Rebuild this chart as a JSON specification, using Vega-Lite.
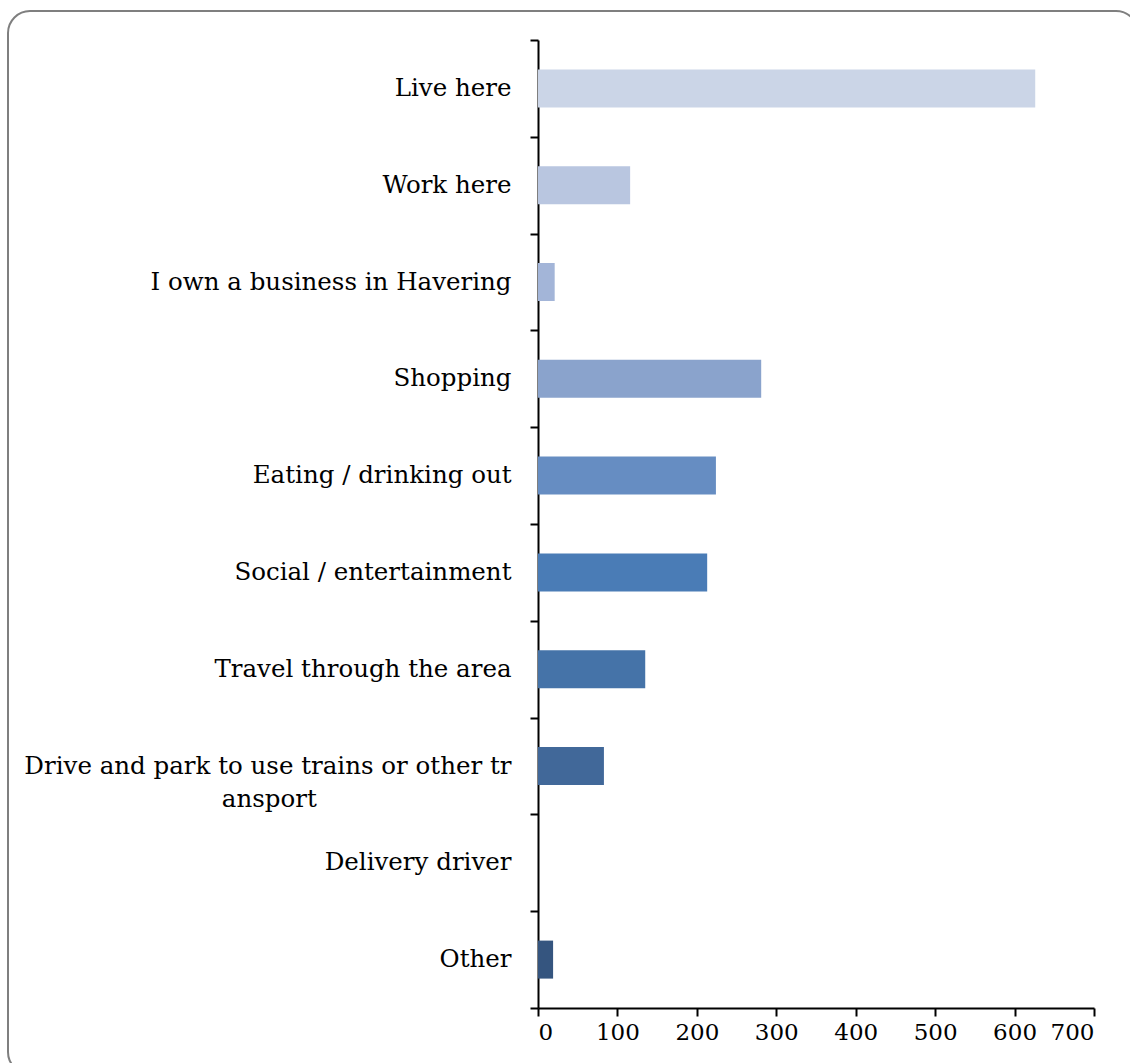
{
  "$schema": "https://vega.github.io/schema/vega-lite/v6.json",
  "width": 1130,
  "height": 1063,
  "autosize": {"type": "none"},
  "padding": {"left": 8, "top": 11, "right": 0, "bottom": 0},
  "background": "white",
  "config": {
    "view": {"stroke": "#7f7f7f", "strokeWidth": 2, "cornerRadius": 22},
    "font": "DejaVu Serif"
  },
  "data": {
    "values": [
      {"label": "Live here", "count": 626},
      {"label": "Work here", "count": 116},
      {"label": "I own a business in Havering", "count": 21},
      {"label": "Shopping", "count": 281},
      {"label": "Eating / drinking out", "count": 224},
      {"label": "Social / entertainment", "count": 213},
      {"label": "Travel through the area", "count": 135},
      {"label": "Drive and park to use trains or other transport", "count": 83},
      {"label": "Delivery driver", "count": 0},
      {"label": "Other", "count": 19}
    ]
  },
  "mark": {"type": "bar", "size": 38},
  "encoding": {
    "y": {
      "field": "label",
      "type": "nominal",
      "sort": null,
      "scale": {"range": [29, 997], "paddingInner": 0, "paddingOuter": 0},
      "axis": {
        "title": null,
        "offset": -530,
        "domainColor": "black",
        "domainWidth": 2,
        "tickColor": "black",
        "tickWidth": 2,
        "tickSize": 8,
        "tickBand": "extent",
        "labelFontSize": 24.5,
        "labelColor": "black",
        "labelPadding": 19,
        "labelLimit": 0,
        "labelLineHeight": 33,
        "labelExpr": "datum.value == 'Drive and park to use trains or other transport' ? ['Drive and park to use trains or other tr', 'ansport\u00a0\u00a0\u00a0\u00a0\u00a0\u00a0\u00a0\u00a0\u00a0\u00a0\u00a0\u00a0\u00a0\u00a0\u00a0\u00a0\u00a0\u00a0\u00a0\u00a0\u00a0\u00a0\u00a0\u00a0\u00a0\u200b'] : datum.value"
      }
    },
    "x": {
      "field": "count",
      "type": "quantitative",
      "scale": {"domain": [0, 700], "range": [530, 1086], "nice": false},
      "axis": {
        "title": null,
        "offset": -66,
        "values": [0, 100, 200, 300, 400, 500, 600, 700],
        "grid": false,
        "domainColor": "black",
        "domainWidth": 2,
        "tickColor": "black",
        "tickWidth": 2,
        "tickSize": 8,
        "labelFontSize": 23,
        "labelColor": "black",
        "labelPadding": 5
      }
    },
    "color": {
      "field": "label",
      "type": "nominal",
      "legend": null,
      "scale": {
        "domain": ["Live here", "Work here", "I own a business in Havering", "Shopping", "Eating / drinking out", "Social / entertainment", "Travel through the area", "Drive and park to use trains or other transport", "Delivery driver", "Other"],
        "range": ["#cbd5e7", "#b9c6e0", "#a3b5d8", "#8aa3cc", "#668dc2", "#4a7cb6", "#4573a8", "#416899", "#3a5d89", "#35557f"]
      }
    }
  }
}
